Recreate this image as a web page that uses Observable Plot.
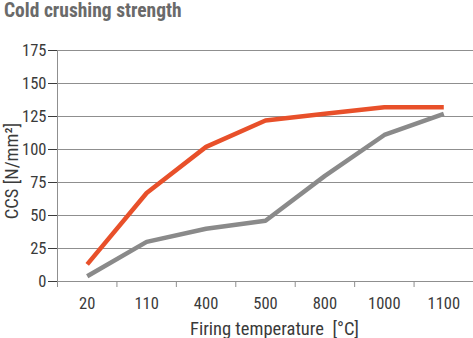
<!DOCTYPE html>
<html>
<head>
<meta charset="utf-8">
<script src="https://cdn.jsdelivr.net/npm/d3@7"></script>
<script src="https://cdn.jsdelivr.net/npm/@observablehq/plot@0.6"></script>
<style>
  body { margin: 0; background: #fff; }
  #title { font-family: "Roboto Condensed", sans-serif; font-weight: bold; font-size: 19.5px; color: #6a6a6a; height: 22px; line-height: 21px; padding-left: 4px; }
</style>
</head>
<body>
<div id="title">Cold crushing strength</div>
<div id="chart"></div>
<script>
const categories = ["20", "110", "400", "500", "800", "1000", "1100"];
const seriesA = [13, 67, 102, 122, 127, 132, 132];   // orange
const seriesB = [4, 30, 40, 46, 80, 111, 127];        // gray
const yTicks = [0, 25, 50, 75, 100, 125, 150, 175];
const xLabel = "Firing temperature\u00a0 [°C]";
const yLabel = "CCS [N/mm²]";

const idx = categories.map((c, i) => i);
const dataA = idx.map(i => ({i, v: seriesA[i]}));
const dataB = idx.map(i => ({i, v: seriesB[i]}));
const bounds = [...idx.map(i => i - 0.5), categories.length - 0.5];

const font = "'Roboto Condensed', sans-serif";

const chart = Plot.plot({
  width: 473,
  height: 316,
  marginLeft: 57,
  marginRight: 0,
  marginTop: 28,
  marginBottom: 57,
  style: { fontFamily: font, fontSize: "16.5px", color: "#3a3a3a", background: "#fff" },
  x: { type: "linear", domain: [-0.5, categories.length - 0.5], ticks: idx, tickFormat: i => categories[i], tickSize: 0, tickPadding: 16, label: null },
  y: { domain: [0, 175], ticks: yTicks, tickSize: 9, tickPadding: 2, label: null },
  marks: [
    Plot.ruleY(yTicks, { stroke: "#8f8f8f", strokeWidth: 1 }),
    Plot.ruleX([bounds[0]], { y1: 0, y2: 175, stroke: "#8f8f8f" }),
    Plot.ruleX(bounds, { y1: 0, y2: 0, insetBottom: -6, stroke: "#8f8f8f" }),
    Plot.line(dataB, { x: "i", y: "v", stroke: "#8a8a8a", strokeWidth: 4.5, strokeLinejoin: "miter", strokeLinecap: "butt" }),
    Plot.line(dataA, { x: "i", y: "v", stroke: "#e8502a", strokeWidth: 4.5, strokeLinejoin: "miter", strokeLinecap: "butt" }),
    Plot.text([xLabel], { frameAnchor: "bottom", lineAnchor: "bottom", dy: 53, dx: 9, fontSize: 18.5, fill: "#3a3a3a" }),
    Plot.text([yLabel], { frameAnchor: "left", textAnchor: "middle", rotate: -90, dx: -45, dy: 5, fontSize: 18.5, fill: "#3a3a3a" })
  ]
});
document.getElementById("chart").appendChild(chart);
</script>
</body>
</html>
